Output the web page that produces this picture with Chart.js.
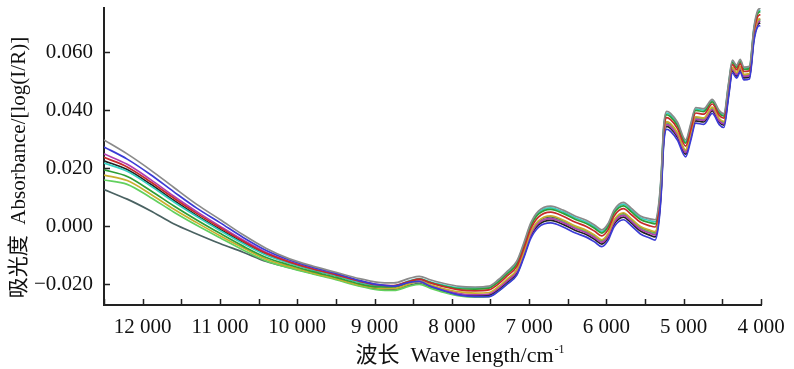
<!DOCTYPE html>
<html>
<head>
<meta charset="utf-8">
<script src="https://cdn.jsdelivr.net/npm/chart.js@4.4.0/dist/chart.umd.min.js"></script>
<style>
  html, body { margin: 0; padding: 0; background: #fff; }
  #wrap { width: 794px; height: 369px; position: relative; }
</style>
</head>
<body>
<div id="wrap"><canvas id="spectra"></canvas></div>
<script>
// wavenumber positions (cm-1) shared by every spectrum
const wavenumbers = [12500, 12200, 11900, 11600, 11300, 11000, 10700, 10400, 10100, 9800,
  9500, 9200, 8950, 8750, 8550, 8420, 8280, 8100, 7900, 7700,
  7520, 7400, 7280, 7160, 7070, 6980, 6880, 6720, 6560, 6400,
  6260, 6150, 6060, 5980, 5900, 5780, 5680, 5560, 5440, 5370,
  5320, 5290, 5260, 5220, 5170, 5080, 4975, 4910, 4845, 4740,
  4630, 4540, 4480, 4420, 4370, 4315, 4270, 4220, 4150, 4090,
  4045, 4010];

// absorbance of each sample spectrum
const greyTop = [0.0297, 0.0249, 0.0194, 0.0134, 0.0075, 0.0023, -0.0030, -0.0077, -0.0113, -0.0138,
  -0.0159, -0.0181, -0.0194, -0.0196, -0.0180, -0.0173, -0.0185, -0.0198, -0.0208, -0.0210,
  -0.0207, -0.0185, -0.0155, -0.0121, -0.0059, 0.0010, 0.0052, 0.0069, 0.0055, 0.0034,
  0.0020, 0.0003, -0.0013, 0.0008, 0.0056, 0.0082, 0.0062, 0.0035, 0.0025, 0.0022,
  0.0084, 0.0184, 0.0342, 0.0396, 0.0389, 0.0358, 0.0297, 0.0352, 0.0409, 0.0405,
  0.0437, 0.0398, 0.0388, 0.0492, 0.0572, 0.0554, 0.0575, 0.0548, 0.0551, 0.0688,
  0.0742, 0.0752];
const blueSample = [0.0273, 0.0231, 0.0178, 0.0119, 0.0062, 0.0012, -0.0039, -0.0084, -0.0117, -0.0142,
  -0.0163, -0.0187, -0.0202, -0.0207, -0.0194, -0.0191, -0.0207, -0.0223, -0.0238, -0.0243,
  -0.0243, -0.0225, -0.0199, -0.0169, -0.0110, -0.0043, -0.0004, 0.0011, -0.0003, -0.0024,
  -0.0038, -0.0055, -0.0071, -0.0050, -0.0002, 0.0022, 0.0002, -0.0027, -0.0041, -0.0048,
  0.0016, 0.0116, 0.0278, 0.0334, 0.0327, 0.0296, 0.0239, 0.0294, 0.0355, 0.0351,
  0.0389, 0.0350, 0.0340, 0.0444, 0.0528, 0.0510, 0.0531, 0.0504, 0.0507, 0.0640,
  0.0686, 0.0692];
const redSample = [0.0237, 0.0204, 0.0153, 0.0097, 0.0044, -0.0005, -0.0052, -0.0094, -0.0124, -0.0148,
  -0.0168, -0.0190, -0.0203, -0.0205, -0.0190, -0.0183, -0.0195, -0.0209, -0.0220, -0.0223,
  -0.0220, -0.0200, -0.0171, -0.0139, -0.0078, -0.0010, 0.0031, 0.0048, 0.0034, 0.0013,
  -0.0001, -0.0018, -0.0034, -0.0013, 0.0035, 0.0060, 0.0040, 0.0013, 0.0001, -0.0003,
  0.0059, 0.0159, 0.0318, 0.0374, 0.0367, 0.0336, 0.0276, 0.0331, 0.0390, 0.0386,
  0.0421, 0.0382, 0.0372, 0.0476, 0.0557, 0.0539, 0.0560, 0.0533, 0.0536, 0.0672,
  0.0721, 0.0730];
const greenSample = [0.0194, 0.0171, 0.0123, 0.0070, 0.0021, -0.0025, -0.0069, -0.0108, -0.0134, -0.0157,
  -0.0177, -0.0199, -0.0210, -0.0209, -0.0192, -0.0183, -0.0195, -0.0207, -0.0216, -0.0217,
  -0.0214, -0.0193, -0.0164, -0.0131, -0.0069, -0.0001, 0.0041, 0.0058, 0.0044, 0.0023,
  0.0009, -0.0008, -0.0024, -0.0003, 0.0045, 0.0070, 0.0050, 0.0023, 0.0012, 0.0008,
  0.0070, 0.0170, 0.0329, 0.0384, 0.0377, 0.0346, 0.0286, 0.0341, 0.0399, 0.0395,
  0.0428, 0.0389, 0.0379, 0.0483, 0.0564, 0.0546, 0.0567, 0.0540, 0.0543, 0.0679,
  0.0731, 0.0740];
const yellowSample = [0.0176, 0.0157, 0.0111, 0.0059, 0.0012, -0.0033, -0.0075, -0.0114, -0.0139, -0.0161,
  -0.0181, -0.0203, -0.0214, -0.0215, -0.0199, -0.0191, -0.0202, -0.0216, -0.0227, -0.0231,
  -0.0229, -0.0209, -0.0181, -0.0150, -0.0090, -0.0022, 0.0018, 0.0035, 0.0021, 0.0000,
  -0.0014, -0.0031, -0.0047, -0.0026, 0.0022, 0.0046, 0.0026, -0.0001, -0.0014, -0.0019,
  0.0043, 0.0143, 0.0304, 0.0360, 0.0353, 0.0322, 0.0263, 0.0318, 0.0377, 0.0373,
  0.0410, 0.0371, 0.0361, 0.0465, 0.0547, 0.0529, 0.0550, 0.0523, 0.0526, 0.0661,
  0.0708, 0.0716];
const cyanSample = [0.0217, 0.0189, 0.0139, 0.0084, 0.0033, -0.0015, -0.0060, -0.0100, -0.0128, -0.0151,
  -0.0171, -0.0193, -0.0205, -0.0206, -0.0189, -0.0181, -0.0192, -0.0204, -0.0213, -0.0213,
  -0.0211, -0.0189, -0.0159, -0.0126, -0.0064, 0.0005, 0.0046, 0.0063, 0.0049, 0.0028,
  0.0014, -0.0003, -0.0019, 0.0002, 0.0050, 0.0076, 0.0056, 0.0029, 0.0019, 0.0015,
  0.0077, 0.0177, 0.0336, 0.0390, 0.0383, 0.0352, 0.0291, 0.0346, 0.0404, 0.0400,
  0.0433, 0.0394, 0.0384, 0.0488, 0.0568, 0.0550, 0.0571, 0.0544, 0.0547, 0.0684,
  0.0736, 0.0746];
const magentaSample = [0.0249, 0.0213, 0.0161, 0.0104, 0.0050, 0.0000, -0.0048, -0.0091, -0.0122, -0.0146,
  -0.0166, -0.0188, -0.0202, -0.0207, -0.0194, -0.0189, -0.0204, -0.0219, -0.0233, -0.0236,
  -0.0234, -0.0215, -0.0188, -0.0157, -0.0098, -0.0030, 0.0010, 0.0026, 0.0012, -0.0009,
  -0.0023, -0.0040, -0.0056, -0.0035, 0.0013, 0.0037, 0.0017, -0.0011, -0.0024, -0.0030,
  0.0033, 0.0133, 0.0294, 0.0350, 0.0343, 0.0312, 0.0254, 0.0309, 0.0369, 0.0365,
  0.0402, 0.0363, 0.0353, 0.0457, 0.0540, 0.0522, 0.0543, 0.0516, 0.0519, 0.0653,
  0.0700, 0.0707];
const blackSample = [0.0225, 0.0195, 0.0145, 0.0089, 0.0037, -0.0011, -0.0057, -0.0098, -0.0126, -0.0150,
  -0.0170, -0.0192, -0.0206, -0.0209, -0.0196, -0.0191, -0.0205, -0.0221, -0.0234, -0.0240,
  -0.0238, -0.0219, -0.0192, -0.0162, -0.0103, -0.0035, 0.0004, 0.0020, 0.0006, -0.0015,
  -0.0029, -0.0046, -0.0062, -0.0041, 0.0007, 0.0031, 0.0011, -0.0017, -0.0031, -0.0037,
  0.0026, 0.0126, 0.0288, 0.0344, 0.0337, 0.0306, 0.0248, 0.0303, 0.0363, 0.0359,
  0.0397, 0.0358, 0.0348, 0.0452, 0.0535, 0.0517, 0.0538, 0.0511, 0.0514, 0.0648,
  0.0694, 0.0701];
const limeSample = [0.0159, 0.0144, 0.0099, 0.0049, 0.0003, -0.0040, -0.0082, -0.0120, -0.0144, -0.0165,
  -0.0185, -0.0207, -0.0220, -0.0222, -0.0207, -0.0201, -0.0214, -0.0229, -0.0241, -0.0245,
  -0.0243, -0.0225, -0.0197, -0.0167, -0.0105, -0.0035, 0.0007, 0.0026, 0.0015, -0.0006,
  -0.0020, -0.0037, -0.0053, -0.0032, 0.0016, 0.0040, 0.0020, -0.0008, -0.0021, -0.0026,
  0.0036, 0.0136, 0.0297, 0.0353, 0.0346, 0.0315, 0.0257, 0.0312, 0.0372, 0.0368,
  0.0405, 0.0366, 0.0356, 0.0460, 0.0542, 0.0524, 0.0545, 0.0518, 0.0521, 0.0656,
  0.0703, 0.0710];
const lowOutlier = [0.0126, 0.0093, 0.0053, 0.0008, -0.0027, -0.0060, -0.0090, -0.0122, -0.0143, -0.0163,
  -0.0182, -0.0204, -0.0217, -0.0219, -0.0204, -0.0198, -0.0211, -0.0226, -0.0238, -0.0241,
  -0.0239, -0.0217, -0.0186, -0.0152, -0.0093, -0.0025, 0.0016, 0.0032, 0.0018, -0.0003,
  -0.0017, -0.0034, -0.0050, -0.0029, 0.0019, 0.0043, 0.0023, -0.0005, -0.0017, -0.0023,
  0.0040, 0.0140, 0.0300, 0.0356, 0.0349, 0.0318, 0.0260, 0.0315, 0.0375, 0.0371,
  0.0407, 0.0368, 0.0358, 0.0462, 0.0545, 0.0527, 0.0548, 0.0521, 0.0524, 0.0658,
  0.0706, 0.0713];

const yTitle = '吸光度  Absorbance/[log(I/R)]';
const xTitle = '波长  Wave length/cm';
const xTitleSup = '-1';

const serif = '"Liberation Serif", "Noto Sans CJK SC", serif';

const samples = [
  { values: greyTop, color: '#8a8a8a' },
  { values: blueSample, color: '#3b3bd6' },
  { values: redSample, color: '#c62a2a' },
  { values: greenSample, color: '#2f9e35' },
  { values: yellowSample, color: '#c9ae2e' },
  { values: cyanSample, color: '#35cfc0' },
  { values: magentaSample, color: '#b03cb0' },
  { values: blackSample, color: '#222222' },
  { values: limeSample, color: '#62d05e' },
  { values: lowOutlier, color: '#4a6262' }
];

function fmtWave(v) {
  return Math.round(v / 1000) + ' 000';
}

// inward tick marks and the two axis titles
const axisExtras = {
  id: 'axisExtras',
  afterDraw(chart) {
    const { ctx, chartArea, scales } = chart;
    ctx.save();
    ctx.strokeStyle = '#222';
    ctx.lineWidth = 1.5;
    ctx.beginPath();
    scales.x.ticks.forEach(t => {
      const px = Math.round(scales.x.getPixelForValue(t.value)) + 0.5;
      ctx.moveTo(px, chartArea.bottom);
      ctx.lineTo(px, chartArea.bottom - 6);
    });
    scales.y.ticks.forEach(t => {
      const py = Math.round(scales.y.getPixelForValue(t.value)) + 0.5;
      ctx.moveTo(chartArea.left, py);
      ctx.lineTo(chartArea.left + 6, py);
    });
    ctx.stroke();

    ctx.fillStyle = '#111';
    ctx.textBaseline = 'alphabetic';

    ctx.save();
    ctx.font = '21px ' + serif;
    ctx.translate(25, (chartArea.top + chartArea.bottom) / 2 + 11);
    ctx.rotate(-Math.PI / 2);
    ctx.textAlign = 'center';
    ctx.fillText(yTitle, 0, 0);
    ctx.restore();

    ctx.font = '22px ' + serif;
    const mainW = ctx.measureText(xTitle).width;
    ctx.font = '12px ' + serif;
    const supW = ctx.measureText(xTitleSup).width;
    const cx = (chartArea.left + chartArea.right) / 2 + 27;
    const x0 = cx - (mainW + supW) / 2;
    ctx.textAlign = 'left';
    ctx.font = '22px ' + serif;
    ctx.fillText(xTitle, x0, 362);
    ctx.font = '12px ' + serif;
    ctx.fillText(xTitleSup, x0 + mainW + 1, 353);
    ctx.restore();
  }
};

new Chart(document.getElementById('spectra'), {
  type: 'line',
  data: {
    datasets: samples.map(s => ({
      data: wavenumbers.map((w, i) => ({ x: w, y: s.values[i] })),
      borderColor: s.color,
      borderWidth: 1.7,
      pointRadius: 0,
      fill: false,
      cubicInterpolationMode: 'monotone'
    }))
  },
  options: {
    responsive: true,
    maintainAspectRatio: false,
    animation: false,
    layout: { padding: { top: 8, right: 33, left: 0, bottom: 0 } },
    plugins: {
      legend: { display: false },
      tooltip: { enabled: false }
    },
    scales: {
      x: {
        type: 'linear',
        reverse: true,
        min: 4000,
        max: 12500,
        border: { display: true, color: '#222', width: 2 },
        grid: { display: false, drawTicks: false },
        ticks: {
          stepSize: 500,
          autoSkip: false,
          includeBounds: false,
          maxRotation: 0,
          minRotation: 0,
          padding: 10,
          color: '#111',
          font: { family: serif, size: 21 },
          callback: v => (Math.round(v) % 1000 === 0 ? fmtWave(v) : '')
        },
        afterFit: s => { s.height = 64; s.paddingLeft = 0; s.paddingRight = 0; }
      },
      y: {
        type: 'linear',
        min: -0.0272,
        max: 0.0752,
        border: { display: true, color: '#222', width: 2 },
        grid: { display: false, drawTicks: false },
        ticks: {
          stepSize: 0.02,
          includeBounds: false,
          padding: 11,
          color: '#111',
          font: { family: serif, size: 21 },
          callback: v => v.toFixed(3).replace('-', '\u2212')
        },
        afterFit: s => { s.width = 104; s.paddingTop = 0; s.paddingBottom = 0; }
      }
    }
  },
  plugins: [axisExtras]
});
</script>
</body>
</html>
